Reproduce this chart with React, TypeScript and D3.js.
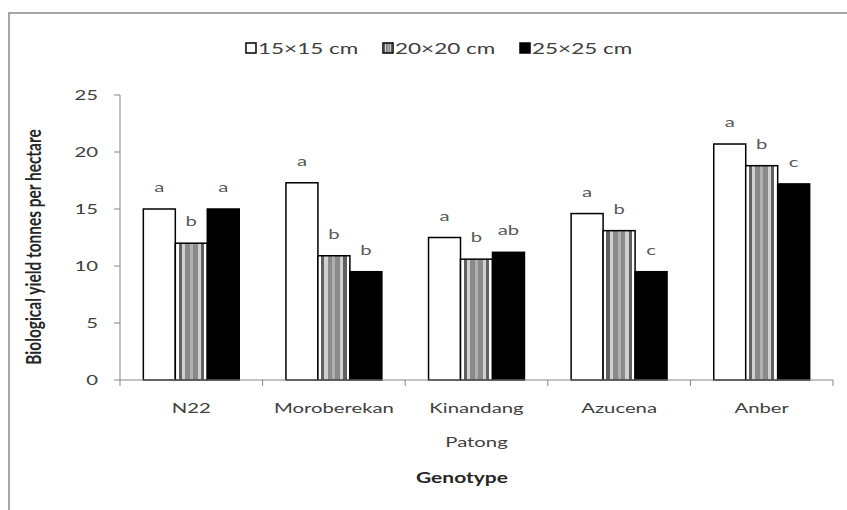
import * as d3 from 'd3';
import { useEffect, useRef } from 'react';

const genotypes = ['N22', 'Moroberekan', 'Kinandang Patong', 'Azucena', 'Anber'];
const spacings = ['15×15 cm', '20×20 cm', '25×25 cm'];
const yield15 = [15.0, 17.3, 12.5, 14.6, 20.7];
const yield20 = [12.0, 10.9, 10.6, 13.1, 18.8];
const yield25 = [15.0, 9.5, 11.2, 9.5, 17.2];
const letters15 = ['a', 'a', 'a', 'a', 'a'];
const letters20 = ['b', 'b', 'b', 'b', 'b'];
const letters25 = ['a', 'b', 'ab', 'c', 'c'];
const yTicks = [0, 5, 10, 15, 20, 25];

const W = 847;
const H = 510;
const SX = 1.45; // the source image is stretched sideways
const FONT = 'Lato, "Open Sans", sans-serif';

export default function App() {
  const svgRef = useRef<SVGSVGElement>(null);

  useEffect(() => {
    const svg = d3.select(svgRef.current);
    svg.selectAll('*').remove();

    const x0 = d3.scaleBand().domain(genotypes).range([120, 833]).paddingInner(0).paddingOuter(0);
    const x1 = d3.scaleBand().domain(spacings).range([0, x0.bandwidth()]).paddingInner(0).paddingOuter(0.73);
    const y = d3.scaleLinear().domain([0, 25]).range([380, 95]);

    const defs = svg.append('defs');
    const grad = defs.append('linearGradient').attr('id', 'stripes').attr('x1', 0).attr('x2', 1).attr('y1', 0).attr('y2', 0);
    const stops: [number, string][] = [
      [0, '#ffffff'], [0.1, '#ffffff'], [0.1, '#606060'], [0.2, '#606060'], [0.2, '#d0d0d0'], [0.3, '#d0d0d0'],
      [0.3, '#8a8a8a'], [0.45, '#8a8a8a'], [0.45, '#b0b0b0'], [0.55, '#b0b0b0'], [0.55, '#8a8a8a'], [0.7, '#8a8a8a'],
      [0.7, '#d0d0d0'], [0.8, '#d0d0d0'], [0.8, '#606060'], [0.9, '#606060'], [0.9, '#ffffff'], [1, '#ffffff'],
    ];
    stops.forEach(([o, c]) => grad.append('stop').attr('offset', o).attr('stop-color', c));

    const fills = ['#ffffff', 'url(#stripes)', '#000000'];
    const series = [yield15, yield20, yield25];
    const letterSets = [letters15, letters20, letters25];

    svg.append('rect').attr('width', W).attr('height', H).attr('fill', '#fff');
    // chart frame
    svg.append('rect').attr('x', 9).attr('y', 13).attr('width', 900).attr('height', 600)
      .attr('fill', 'none').attr('stroke', '#a6a6a6').attr('stroke-width', 2);

    const stretched = (g: any, x: number, yy: number, txt: string, anchor = 'middle', sx = SX) =>
      g.append('text')
        .attr('transform', `translate(${x},${yy}) scale(${sx},1)`)
        .attr('text-anchor', anchor)
        .text(txt);

    // y axis
    const ya = svg.append('g').attr('font-family', FONT).attr('font-size', 14).attr('fill', '#404040');
    ya.append('line').attr('x1', 120).attr('x2', 120).attr('y1', y(25)).attr('y2', y(0)).attr('stroke', '#868686');
    yTicks.forEach((t) => {
      ya.append('line').attr('x1', 114).attr('x2', 120).attr('y1', y(t)).attr('y2', y(t)).attr('stroke', '#868686');
      stretched(ya, 98, y(t) + 5, String(t), 'end');
    });

    // bars
    genotypes.forEach((gname, i) => {
      series.forEach((vals, s) => {
        const bx = (x0(gname) ?? 0) + (x1(spacings[s]) ?? 0);
        svg.append('rect')
          .attr('x', bx).attr('y', y(vals[i]))
          .attr('width', x1.bandwidth()).attr('height', y(0) - y(vals[i]))
          .attr('fill', fills[s]).attr('stroke', '#000').attr('stroke-width', 1.5);
        const lg = svg.append('g').attr('font-family', FONT).attr('font-size', 14).attr('fill', '#595959');
        stretched(lg, bx + x1.bandwidth() / 2, y(vals[i]) - 17, letterSets[s][i]);
      });
    });

    // x axis
    const xa = svg.append('g').attr('font-family', FONT).attr('font-size', 14).attr('fill', '#404040');
    xa.append('line').attr('x1', 120).attr('x2', 833).attr('y1', y(0)).attr('y2', y(0)).attr('stroke', '#868686');
    [...genotypes.map((g) => x0(g) ?? 0), 833].forEach((tx) => {
      xa.append('line').attr('x1', tx).attr('x2', tx).attr('y1', y(0)).attr('y2', y(0) + 6).attr('stroke', '#868686');
    });
    genotypes.forEach((g) => {
      const cx = (x0(g) ?? 0) + x0.bandwidth() / 2;
      const parts = g === 'Kinandang Patong' ? ['Kinandang', 'Patong'] : [g];
      parts.forEach((p, k) => stretched(xa, cx, 413 + k * 34, p));
    });

    // axis titles
    const tg = svg.append('g').attr('font-family', FONT).attr('font-size', 15).attr('font-weight', 'bold').attr('fill', '#262626');
    stretched(tg, 462, 483, 'Genotype', 'middle', 1.4);
    tg.append('text')
      .attr('transform', `translate(41,247) rotate(-90) scale(1.03,1.4)`)
      .attr('text-anchor', 'middle')
      .text('Biological yield tonnes per hectare');

    // legend
    const leg = svg.append('g').attr('font-family', FONT).attr('font-size', 15).attr('fill', '#404040');
    const legX = [246, 383, 520];
    spacings.forEach((sp, s) => {
      leg.append('rect').attr('x', legX[s]).attr('y', 43).attr('width', 10).attr('height', 10)
        .attr('fill', fills[s]).attr('stroke', '#000').attr('stroke-width', 1.5);
      stretched(leg, legX[s] + 12, 54, sp, 'start', 1.5);
    });
  }, []);

  return (
    <svg ref={svgRef} width={W} height={H} style={{ position: 'absolute', left: 0, top: 0 }} />
  );
}
